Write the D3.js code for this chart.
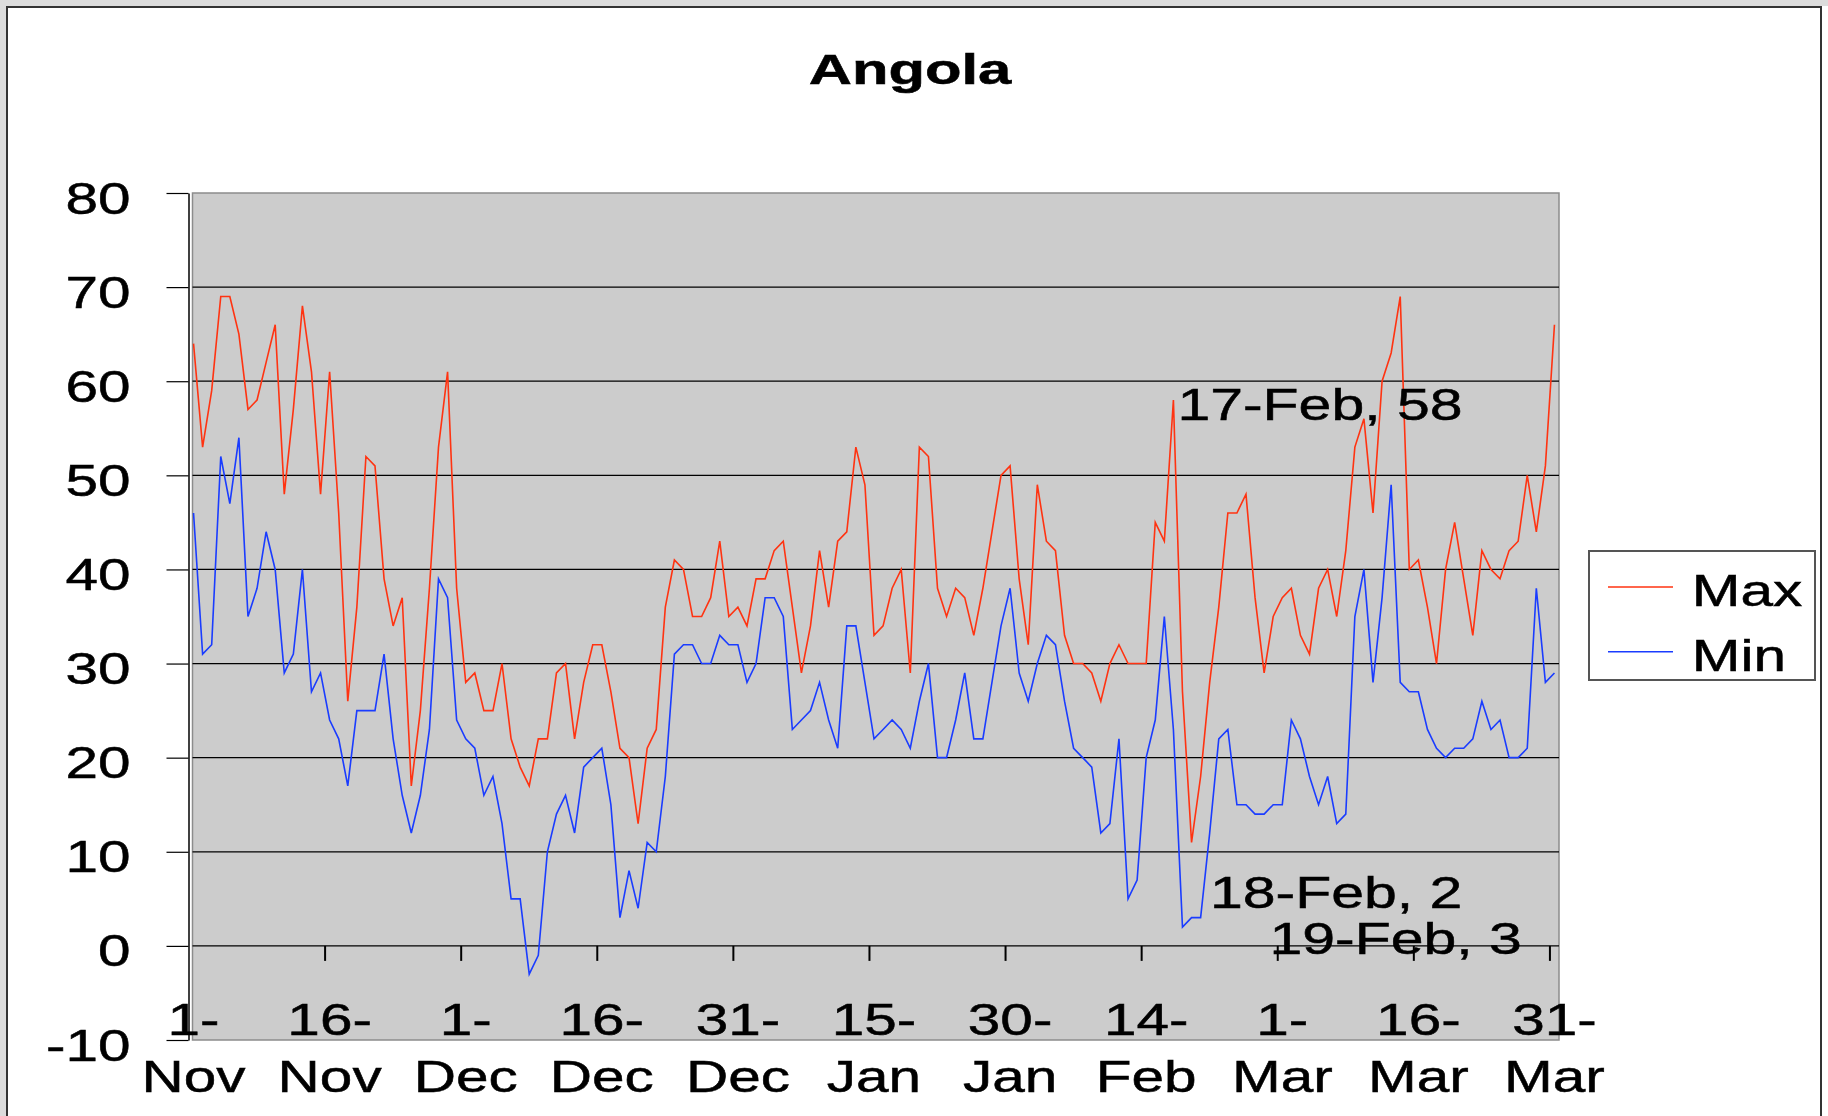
<!DOCTYPE html>
<html>
<head>
<meta charset="utf-8">
<script src="https://cdn.jsdelivr.net/npm/d3@7"></script>
<style>
  body { margin: 0; background: #fff; }
  svg { display: block; }
  text { font-family: "Liberation Sans", Arial, sans-serif; fill: #000; stroke: #000; stroke-width: 0.5px; }
</style>
</head>
<body>
<svg id="chart" width="1828" height="1116"></svg>
<script>
// daily values, 1-Nov to 31-Mar
const maxTemp = [
    64, 53, 59, 69, 69, 65, 57, 58, 62, 66,
    48, 57, 68, 61, 48, 61, 46, 26, 36, 52,
    51, 39, 34, 37, 17, 25, 38, 53, 61, 38,
    28, 29, 25, 25, 30, 22, 19, 17, 22, 22,
    29, 30, 22, 28, 32, 32, 27, 21, 20, 13,
    21, 23, 36, 41, 40, 35, 35, 37, 43, 35,
    36, 34, 39, 39, 42, 43, 36, 29, 34, 42,
    36, 43, 44, 53, 49, 33, 34, 38, 40, 29,
    53, 52, 38, 35, 38, 37, 33, 38, 44, 50,
    51, 39, 32, 49, 43, 42, 33, 30, 30, 29,
    26, 30, 32, 30, 30, 30, 45, 43, 58, 27,
    11, 18, 28, 36, 46, 46, 48, 37, 29, 35,
    37, 38, 33, 31, 38, 40, 35, 42, 53, 56,
    46, 60, 63, 69, 40, 41, 36, 30, 40, 45,
    39, 33, 42, 40, 39, 42, 43, 50, 44, 51,
    66
];
const minTemp = [
    46, 31, 32, 52, 47, 54, 35, 38, 44, 40,
    29, 31, 40, 27, 29, 24, 22, 17, 25, 25,
    25, 31, 22, 16, 12, 16, 23, 39, 37, 24,
    22, 21, 16, 18, 13, 5, 5, -3, -1, 10,
    14, 16, 12, 19, 20, 21, 15, 3, 8, 4,
    11, 10, 18, 31, 32, 32, 30, 30, 33, 32,
    32, 28, 30, 37, 37, 35, 23, 24, 25, 28,
    24, 21, 34, 34, 28, 22, 23, 24, 23, 21,
    26, 30, 20, 20, 24, 29, 22, 22, 28, 34,
    38, 29, 26, 30, 33, 32, 26, 21, 20, 19,
    12, 13, 22, 5, 7, 20, 24, 35, 23, 2,
    3, 3, 12, 22, 23, 15, 15, 14, 14, 15,
    15, 24, 22, 18, 15, 18, 13, 14, 35, 40,
    28, 37, 49, 28, 27, 27, 23, 21, 20, 21,
    21, 22, 26, 23, 24, 20, 20, 21, 38, 28,
    29
];
const days = d3.utcDays(new Date(Date.UTC(2006, 10, 1)), new Date(Date.UTC(2007, 3, 1)));
const seriesNames = ["Max", "Min"];
const seriesColors = ["#ff3311", "#1a3cff"];
const yTicks = [-10, 0, 10, 20, 30, 40, 50, 60, 70, 80];
const xTickLabels = ["1-Nov", "16-Nov", "1-Dec", "16-Dec", "31-Dec", "15-Jan", "30-Jan", "14-Feb", "1-Mar", "16-Mar", "31-Mar"];
const annotationText = ["17-Feb, 58", "18-Feb, 2", "19-Feb, 3"];
const annotationDays = ["17-Feb", "18-Feb", "19-Feb"];
const annotationSeries = [0, 1, 1];
const title = "Angola";

const W = 1828, H = 1116;
const SX = 1.33;   // text in the original is drawn wide
const svg = d3.select("#chart");
const fmt = d3.utcFormat("%-d-%b");

// outer frame
svg.append("rect").attr("width", W).attr("height", 6).attr("fill", "#dcdcdc");
svg.append("rect").attr("width", 6).attr("height", H).attr("fill", "#dcdcdc");
svg.append("rect")
    .attr("x", 7).attr("y", 7).attr("width", 1814).attr("height", H)
    .attr("fill", "#fff").attr("stroke", "#333").attr("stroke-width", 2);

const plot = { left: 189, right: 1559, top: 193, bottom: 1040, axisX: 188.5, fillX: 192.5 };

const x = d3.scaleUtc()
    .domain([d3.utcHour.offset(days[0], -12), d3.utcHour.offset(days[days.length - 1], 12)])
    .range([plot.left, plot.right]);
const y = d3.scaleLinear().domain([-10, 80]).range([plot.bottom, plot.top]);

function wideText(g, str, tx, ty, size, anchor, sx, weight) {
    return g.append("text")
        .attr("transform", `translate(${tx},${ty}) scale(${sx || SX},1)`)
        .attr("text-anchor", anchor || "start")
        .attr("font-size", size)
        .attr("font-weight", weight || "normal")
        .text(str);
}

// plot background
svg.append("rect")
    .attr("x", plot.fillX).attr("y", plot.top)
    .attr("width", plot.right - plot.fillX).attr("height", plot.bottom - plot.top)
    .attr("fill", "#cccccc").attr("stroke", "#8c8c8c").attr("stroke-width", 1.5);

// gridlines
svg.append("g").selectAll("line")
    .data(yTicks.filter(v => v > -10 && v < 80))
    .join("line")
    .attr("x1", plot.fillX).attr("x2", plot.right)
    .attr("y1", d => y(d)).attr("y2", d => y(d))
    .attr("stroke", "#000").attr("stroke-width", 1.2);

// y axis
const yAxis = svg.append("g")
    .attr("transform", `translate(${plot.axisX},0)`)
    .call(d3.axisLeft(y).tickValues(yTicks).tickSize(22).tickSizeOuter(0).tickFormat(d => String(d)));
yAxis.attr("font-family", null).attr("font-size", null);
yAxis.select(".domain").attr("stroke", "#000").attr("stroke-width", 1.5);
yAxis.selectAll(".tick line").attr("stroke", "#000").attr("stroke-width", 1.2);
yAxis.selectAll(".tick text")
    .attr("x", null).attr("dy", null)
    .attr("fill", "#000")
    .attr("font-size", 44)
    .attr("transform", `translate(-58,20) scale(${SX},1)`);

// x axis: ticks between days on the zero line, labels under the plot
const labelDays = xTickLabels.map(l => days.find(d => fmt(d) === l));
const halfDay = (x(days[1]) - x(days[0])) / 2;
svg.append("g").selectAll("line")
    .data(labelDays.slice(1))
    .join("line")
    .attr("x1", d => x(d) - halfDay).attr("x2", d => x(d) - halfDay)
    .attr("y1", y(0)).attr("y2", y(0) + 15)
    .attr("stroke", "#000").attr("stroke-width", 2);

const xLabels = svg.append("g");
labelDays.forEach((d, i) => {
    const parts = xTickLabels[i].split("-");
    const t = xLabels.append("text")
        .attr("transform", `translate(${x(d)},1035) scale(${SX},1)`)
        .attr("text-anchor", "middle")
        .attr("font-size", 44);
    t.append("tspan").attr("x", 0).text(parts[0] + "-");
    t.append("tspan").attr("x", 0).attr("dy", 56.7).text(parts[1]);
});

// series
const series = [maxTemp, minTemp].map((vals, i) => ({
    name: seriesNames[i],
    color: seriesColors[i],
    values: vals.map((v, j) => ({ date: days[j], value: v }))
}));

const line = d3.line().x(d => x(d.date)).y(d => y(d.value));

svg.append("g").selectAll("path")
    .data(series)
    .join("path")
    .attr("d", d => line(d.values))
    .attr("fill", "none")
    .attr("stroke", d => d.color)
    .attr("stroke-width", 1.6)
    .attr("stroke-linejoin", "miter");

// data labels
const annOffsets = [[4, 20], [27.5, -19], [78, 36]];
const ann = svg.append("g");
annotationText.forEach((txt, i) => {
    const d = days.find(dd => fmt(dd) === annotationDays[i]);
    const v = series[annotationSeries[i]].values.find(p => p.date === d).value;
    wideText(ann, txt, x(d) + annOffsets[i][0], y(v) + annOffsets[i][1], 44, "start", 1.34);
});

// title
wideText(svg, title, 910, 84.3, 43, "middle", 1.39, "bold");

// legend
const legend = svg.append("g");
legend.append("rect")
    .attr("x", 1589).attr("y", 551).attr("width", 226).attr("height", 129)
    .attr("fill", "#fff").attr("stroke", "#555").attr("stroke-width", 2);
series.forEach((s, i) => {
    const ly = 587 + i * 64.7;
    legend.append("line")
        .attr("x1", 1608).attr("x2", 1673)
        .attr("y1", ly).attr("y2", ly)
        .attr("stroke", s.color).attr("stroke-width", 1.6);
    wideText(legend, s.name, 1691.7, ly + 19, 45, "start", 1.3);
});
</script>
</body>
</html>
